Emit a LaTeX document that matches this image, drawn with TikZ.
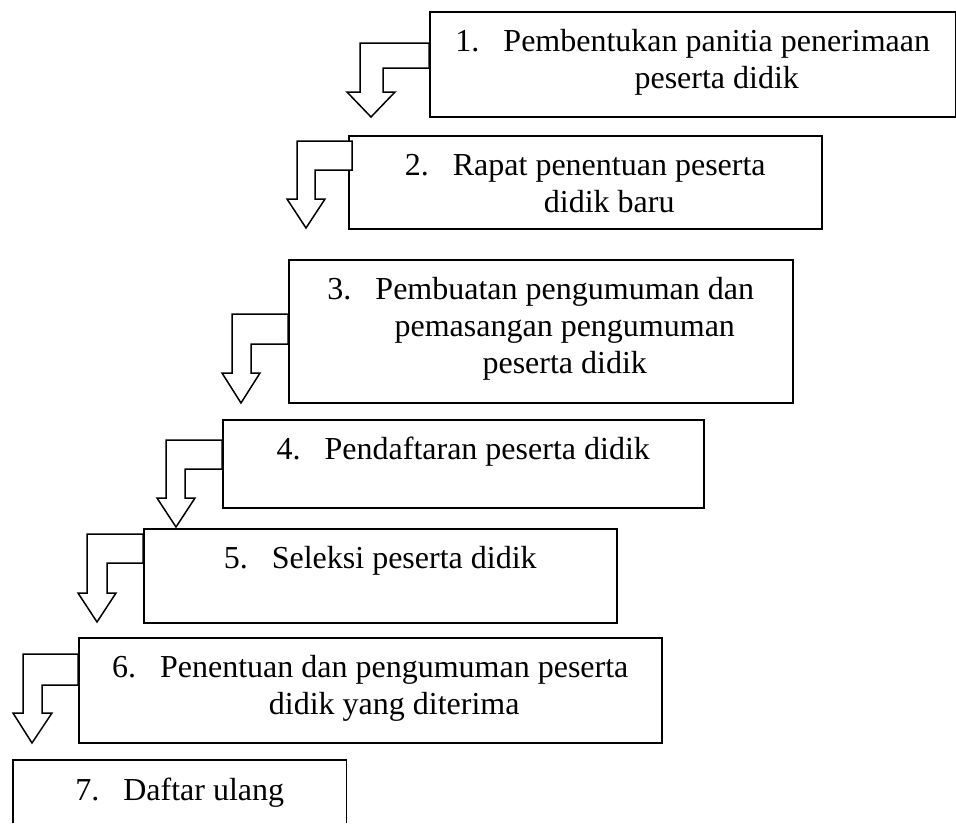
\documentclass[tikz,border=0pt]{standalone}
\usepackage{fontspec}
\setmainfont{Liberation Serif}
\begin{document}
\begin{tikzpicture}[x=1pt,y=-1pt,
  stage/.style={draw, line width=1.5pt, inner sep=0pt, anchor=north west},
  stagetext/.style={anchor=north, inner sep=0pt, font=\fontsize{32}{37}\selectfont, yshift=-14pt},
  bent/.style={draw, fill=white, line width=1.5pt, line join=miter}]
\useasboundingbox (0,0) rectangle (956,823);

% boxes
\node[stage, minimum width=526pt, minimum height=105pt] (b1) at (429,11) {};
\node[stage, minimum width=473pt, minimum height=93pt]  (b2) at (348,135) {};
\node[stage, minimum width=504pt, minimum height=143pt] (b3) at (288,259) {};
\node[stage, minimum width=481pt, minimum height=88pt]  (b4) at (222,419) {};
\node[stage, minimum width=473pt, minimum height=94pt]  (b5) at (143,528) {};
\node[stage, minimum width=583pt, minimum height=105pt] (b6) at (78,637) {};
\node[anchor=north west, inner sep=0pt, minimum width=333pt, minimum height=63pt] (b7) at (13,760) {};
\draw[line width=1.5pt] (b7.south west) -- (b7.north west) -- (b7.north east) -- (b7.south east);

% texts
\node[stagetext] (t1) at (b1.north) {\makebox[48pt][l]{1.}\begin{tabular}[t]{@{}c@{}}Pembentukan panitia penerimaan\\peserta didik\end{tabular}};
\node[stagetext] (t2) at (b2.north) {\makebox[48pt][l]{2.}\begin{tabular}[t]{@{}c@{}}Rapat penentuan peserta\\didik baru\end{tabular}};
\node[stagetext] (t3) at (b3.north) {\makebox[48pt][l]{3.}\begin{tabular}[t]{@{}c@{}}Pembuatan pengumuman dan\\pemasangan pengumuman\\peserta didik\end{tabular}};
\node[stagetext] (t4) at (b4.north) {\makebox[48pt][l]{4.}\begin{tabular}[t]{@{}c@{}}Pendaftaran peserta didik\end{tabular}};
\node[stagetext] (t5) at (b5.north) {\makebox[48pt][l]{5.}\begin{tabular}[t]{@{}c@{}}Seleksi peserta didik\end{tabular}};
\node[stagetext] (t6) at (b6.north) {\makebox[48pt][l]{6.}\begin{tabular}[t]{@{}c@{}}Penentuan dan pengumuman peserta\\didik yang diterima\end{tabular}};
\node[stagetext] (t7) at (b7.north) {\makebox[48pt][l]{7.}\begin{tabular}[t]{@{}c@{}}Daftar ulang\end{tabular}};

% bent block arrows
\foreach \r/\oy/\iy/\ox/\ix/\hy/\hl/\hr/\tx/\ty in {
  429/43/68/360/383/92/347/395/371/117,
  352/141/170/297/315/199/287/325/306/228,
  288/314/344/232/251/373/222/260/241/403,
  222/440/469/166/185/498/157/195/176/527,
  143/534/563/87/107/593/78/116/97/622,
  78/654/685/23/42/713/13/52/32/743}{
  \draw[bent] (\r,\oy) -- (\ox,\oy) -- (\ox,\hy) -- (\hl,\hy) -- (\tx,\ty) -- (\hr,\hy) -- (\ix,\hy) -- (\ix,\iy) -- (\r,\iy) -- cycle;
}
\end{tikzpicture}
\end{document}
